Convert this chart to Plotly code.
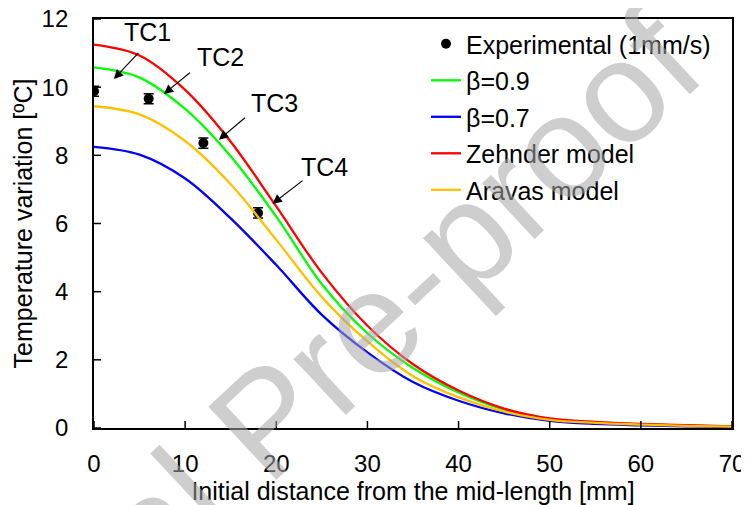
import plotly.graph_objects as go

# ---- data ----
x_model = [0, 5, 10, 15, 20, 25, 30, 35, 40, 45, 50, 55, 60, 65, 70]
beta09 = [10.58, 10.28, 9.36, 7.97, 6.20, 4.22, 2.78, 1.76, 1.04, 0.54, 0.27, 0.17, 0.11, 0.07, 0.05]
beta07 = [8.25, 8.02, 7.32, 6.15, 4.78, 3.32, 2.22, 1.35, 0.80, 0.43, 0.21, 0.12, 0.08, 0.05, 0.03]
zehnder = [11.25, 10.93, 9.92, 8.40, 6.50, 4.55, 3.00, 1.87, 1.10, 0.57, 0.28, 0.18, 0.12, 0.08, 0.05]
aravas = [9.44, 9.20, 8.42, 7.15, 5.52, 3.84, 2.54, 1.52, 0.90, 0.48, 0.24, 0.15, 0.10, 0.06, 0.04]

x_exp = [0, 6, 12, 18]
y_exp = [9.88, 9.66, 8.36, 6.31]
err_exp = [0.15, 0.15, 0.15, 0.15]

tc_labels = ["TC1", "TC2", "TC3", "TC4"]

x_ticks = [0, 10, 20, 30, 40, 50, 60, 70]
y_ticks = [0, 2, 4, 6, 8, 10, 12]

FONT = "Liberation Sans, Arial, sans-serif"

fig = go.Figure()

fig.add_trace(go.Scatter(
    x=x_exp, y=y_exp, mode="markers", name="Experimental (1mm/s)",
    marker=dict(color="black", size=10),
    error_y=dict(type="data", array=err_exp, color="black", thickness=1.5, width=5),
    legendgroup="a",
))
for name, ys, col, g in [("β=0.9", beta09, "#00FF00", "b"),
                         ("β=0.7", beta07, "#0000FF", "c"),
                         ("Zehnder model", zehnder, "#FF0000", "d"),
                         ("Aravas model", aravas, "#FFC000", "e")]:
    fig.add_trace(go.Scatter(
        x=x_model, y=ys, mode="lines", name=name,
        line=dict(color=col, width=2.3, shape="spline", smoothing=1.0),
        legendgroup=g,
    ))

# TC label positions (layout, not data marks)
label_pos = [(5.82, 11.61), (13.9, 10.89), (19.84, 9.55), (25.33, 7.67)]
arrow_tail = [(5.03, 11.05), (10.68, 10.46), (16.73, 9.14), (23.05, 7.29)]
arrow_tip = [(2.18, 10.24), (7.67, 9.80), (13.71, 8.46), (19.58, 6.58)]

annotations = []
for lab, (lx, ly), (tx, ty), (hx, hy) in zip(tc_labels, label_pos, arrow_tail, arrow_tip):
    annotations.append(dict(x=lx, y=ly, xref="x", yref="y", text=lab, showarrow=False,
                            font=dict(family=FONT, size=25, color="black")))
    annotations.append(dict(x=hx, y=hy, ax=tx, ay=ty, xref="x", yref="y", axref="x", ayref="y",
                            text="", showarrow=True, arrowhead=2, arrowsize=1.7, arrowwidth=1.1,
                            arrowcolor="black", standoff=0, startstandoff=0))

# watermark
annotations.append(dict(x=(266 - 94) / 638, y=(428 - 421) / 409, xref="paper", yref="paper",
                        xanchor="center", yanchor="middle",
                        text="Journal Pre-proof", showarrow=False, textangle=-43,
                        font=dict(family=FONT, size=145, color="rgba(165,165,165,0.55)")))

# inside tick marks, placed on the tick values through the axes (length in pixels)
shapes = []
for t in x_ticks:
    shapes.append(dict(type="line", xref="x", yref="y", x0=t, x1=t, ysizemode="pixel",
                       yanchor=0, y0=0, y1=7, line=dict(color="black", width=1.5),
                       layer="above"))
for t in y_ticks:
    shapes.append(dict(type="line", xref="x", yref="y", y0=t, y1=t, xsizemode="pixel",
                       xanchor=0, x0=0, x1=7, line=dict(color="black", width=1.5),
                       layer="above"))

# page body has an 8px margin: figure is 741x497 so the plot lands at x 94-732, y 19-428
fig.update_layout(
    template="none",
    width=741, height=497,
    margin=dict(l=86, r=17, t=11, b=77, autoexpand=False),
    paper_bgcolor="white", plot_bgcolor="white",
    font=dict(family=FONT, size=24, color="black"),
    showlegend=True,
    legend=dict(x=(426 - 94) / 638, y=0.995, xanchor="left", yanchor="top",
                bgcolor="rgba(0,0,0,0)", borderwidth=0,
                font=dict(family=FONT, size=25, color="black"),
                tracegroupgap=1, traceorder="grouped"),
    annotations=annotations,
    shapes=shapes,
    xaxis=dict(range=[0, 70], tickvals=x_ticks, ticks="outside", ticklen=13,
               tickcolor="rgba(0,0,0,0)", showline=True, mirror=True, linecolor="black",
               linewidth=1.8, showgrid=False, zeroline=False, automargin=False,
               ticklabeloverflow="allow",
               tickfont=dict(family=FONT, size=24, color="black"),
               title=dict(text="Initial distance from the mid-length [mm]",
                          font=dict(family=FONT, size=25, color="black"), standoff=6)),
    yaxis=dict(range=[0, 12], tickvals=y_ticks, ticks="outside", ticklen=19,
               tickcolor="rgba(0,0,0,0)", showline=True, mirror=True, linecolor="black",
               linewidth=1.8, showgrid=False, zeroline=False, automargin=False,
               ticklabeloverflow="allow",
               tickfont=dict(family=FONT, size=24, color="black"),
               title=dict(text="Temperature variation [ºC]",
                          font=dict(family=FONT, size=25, color="black"), standoff=2)),
)

fig.write_html("out.html")
